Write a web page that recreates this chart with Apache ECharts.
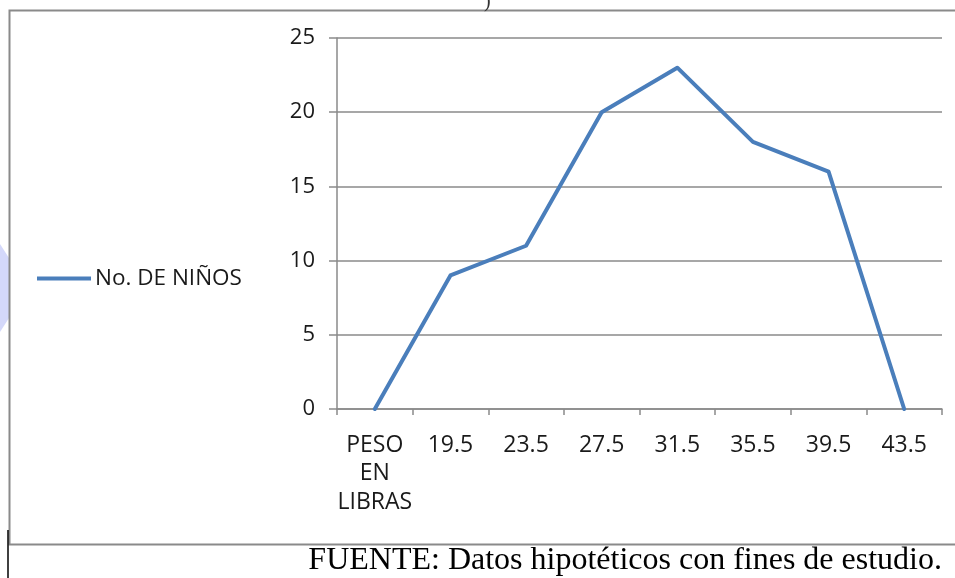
<!DOCTYPE html>
<html>
<head>
<meta charset="utf-8">
<script src="https://cdn.jsdelivr.net/npm/echarts@6/dist/echarts.min.js"></script>
<style>
  html, body { margin: 0; padding: 0; background: #fff; }
  #chart { width: 955px; height: 578px; }
</style>
</head>
<body>
<div id="chart"></div>
<script>
// datos
const categories = ['PESO\nEN\nLIBRAS', '19.5', '23.5', '27.5', '31.5', '35.5', '39.5', '43.5']
const ninos = [0, 9, 11, 20, 23, 18, 16, 0]
const seriesName = 'No. DE NIÑOS'
const yTicks = { min: 0, max: 25, interval: 5 }

const chart = echarts.init(document.getElementById('chart'), null, { renderer: 'canvas' })

const axisColor = '#8a8a8a'
const labelFont = { fontFamily: 'Open Sans', fontSize: 22, color: '#1a1a1a' }

const option = {
  backgroundColor: '#fff',
  animation: false,
  grid: { left: 337, right: 13, top: 38, bottom: 169 },
  legend: {
    left: 37,
    top: 267,
    padding: 0,
    orient: 'vertical',
    itemWidth: 54,
    itemHeight: 4,
    itemGap: 4,
    icon: 'rect',
    textStyle: { ...labelFont, fontSize: 22.5, padding: [0, 0, 0, -1] },
    data: [seriesName]
  },
  xAxis: {
    type: 'category',
    data: categories,
    boundaryGap: true,
    axisLine: { lineStyle: { color: axisColor, width: 1.5 } },
    axisTick: { show: true, length: 6, lineStyle: { color: axisColor, width: 1.5 } },
    axisLabel: { ...labelFont, fontSize: 23, margin: 22, lineHeight: 28.5, interval: 0 },
    splitLine: { show: false }
  },
  yAxis: {
    type: 'value',
    min: yTicks.min,
    max: yTicks.max,
    interval: yTicks.interval,
    axisLine: { show: true, lineStyle: { color: axisColor, width: 1.5 } },
    axisTick: { show: true, length: 8, lineStyle: { color: axisColor, width: 1.5 } },
    axisLabel: { ...labelFont, margin: 22 },
    splitLine: { lineStyle: { color: axisColor, width: 1.5 } }
  },
  series: [{
    name: seriesName,
    type: 'line',
    data: ninos,
    symbol: 'none',
    lineStyle: { color: '#4a7ebb', width: 4, cap: 'round', join: 'round' },
    itemStyle: { color: '#4a7ebb' }
  }],
  graphic: [
    // marco del gráfico
    {
      type: 'rect', silent: true, z: -1,
      shape: { x: 9.5, y: 10.5, width: 960, height: 534 },
      style: { fill: 'none', stroke: '#8a8a8a', lineWidth: 2 }
    },
    // mancha azul del fondo a la izquierda
    {
      type: 'polygon', silent: true, z: -2,
      shape: { points: [[0, 244], [9, 258], [9, 318], [0, 332]] },
      style: { fill: '#d4d8fa' }
    },
    // resto de texto cortado arriba
    {
      type: 'text', left: 484, top: -8,
      style: { text: ')', font: '20px "Liberation Serif"', fill: '#333' }
    },
    // línea vertical abajo a la izquierda
    {
      type: 'line', silent: true,
      shape: { x1: 8, y1: 530, x2: 8, y2: 578 },
      style: { stroke: '#000', lineWidth: 1.5 }
    },
    {
      type: 'text', right: 13, top: 545,
      style: {
        text: 'FUENTE: Datos hipotéticos con fines de estudio.',
        font: '32px "Liberation Serif"',
        fill: '#000'
      }
    }
  ]
}

chart.setOption(option)
</script>
</body>
</html>
